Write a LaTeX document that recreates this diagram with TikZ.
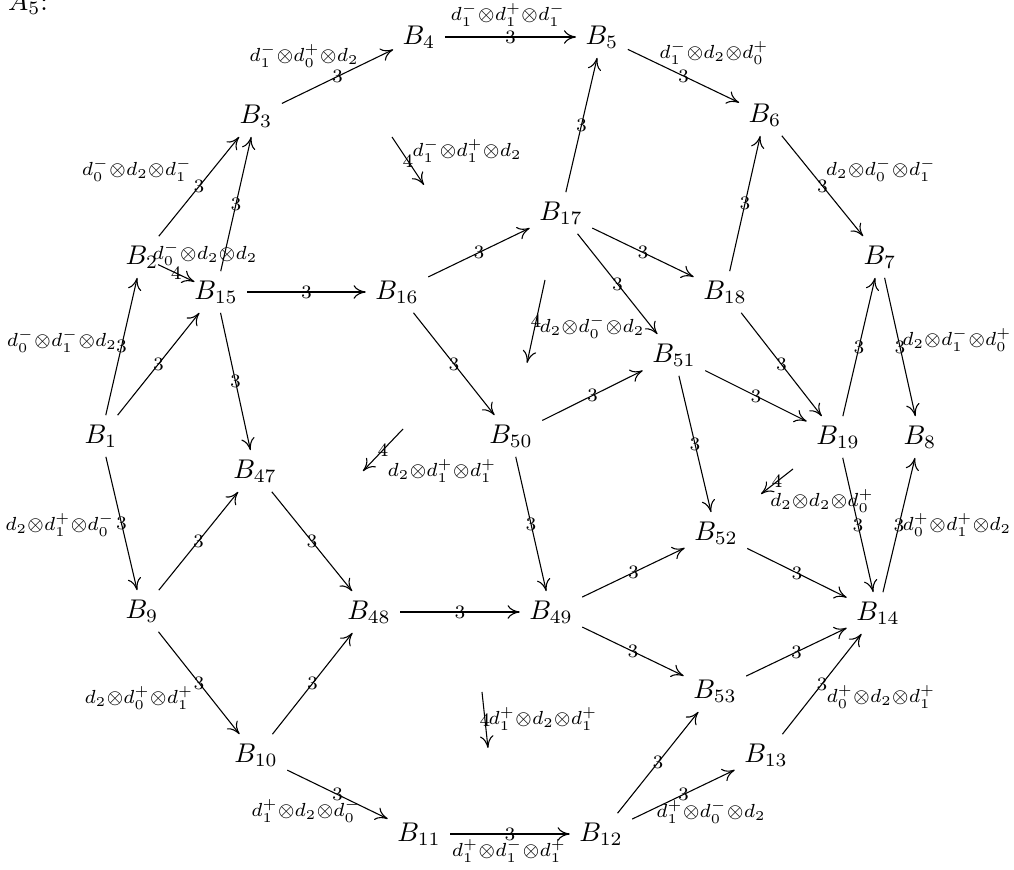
\documentclass[tikz,border=0pt]{standalone}
\usepackage{amsmath,amssymb}
\usepackage{tikz}
\usetikzlibrary{arrows.meta}

\begin{document}
\begin{tikzpicture}[x=0.013cm,y=-0.013cm,
  arr/.style={-{To[length=4.5pt,width=5pt]}},
  num/.style={midway,inner sep=1pt,font=\scriptsize},
  lab/.style={inner sep=0pt}]
\useasboundingbox (0,0) rectangle (1014,870);
\node (A5) at (28,3) {$A_5$:};
% cells
\node (B1) at (101,436) {$B_1$};
\node (B2) at (142,257) {$B_2$};
\node (B3) at (256,116) {$B_3$};
\node (B4) at (419,37) {$B_4$};
\node (B5) at (602,37) {$B_5$};
\node (B6) at (765,115) {$B_6$};
\node (B7) at (880,257) {$B_7$};
\node (B8) at (920,437) {$B_8$};
\node (B9) at (142,611) {$B_9$};
\node (B10) at (256,755) {$B_{10}$};
\node (B11) at (419,834) {$B_{11}$};
\node (B12) at (601,834) {$B_{12}$};
\node (B13) at (766,755) {$B_{13}$};
\node (B14) at (878,613) {$B_{14}$};
\node (B15) at (216,292) {$B_{15}$};
\node (B16) at (397,292) {$B_{16}$};
\node (B17) at (561,213) {$B_{17}$};
\node (B18) at (725,292) {$B_{18}$};
\node (B19) at (838,437) {$B_{19}$};
\node (B47) at (255,471) {$B_{47}$};
\node (B48) at (369,612) {$B_{48}$};
\node (B49) at (551,612) {$B_{49}$};
\node (B50) at (511,436) {$B_{50}$};
\node (B51) at (674,355) {$B_{51}$};
\node (B52) at (716,533) {$B_{52}$};
\node (B53) at (715,691) {$B_{53}$};
% outer ring
\draw[arr] (B1) -- node[num]{3} (B2);
\draw[arr] (B2) -- node[num]{3} (B3);
\draw[arr] (B3) -- node[num]{3} (B4);
\draw[arr] (B4) -- node[num]{3} (B5);
\draw[arr] (B5) -- node[num]{3} (B6);
\draw[arr] (B6) -- node[num]{3} (B7);
\draw[arr] (B7) -- node[num]{3} (B8);
\draw[arr] (B1) -- node[num]{3} (B9);
\draw[arr] (B9) -- node[num]{3} (B10);
\draw[arr] (B10) -- node[num]{3} (B11);
\draw[arr] (B11) -- node[num]{3} (B12);
\draw[arr] (B12) -- node[num]{3} (B13);
\draw[arr] (B13) -- node[num]{3} (B14);
\draw[arr] (B14) -- node[num]{3} (B8);
% inner edges
\draw[arr] (B1) -- node[num]{3} (B15);
\draw[arr] (B15) -- node[num]{3} (B3);
\draw[arr] (B15) -- node[num]{3} (B16);
\draw[arr] (B15) -- node[num]{3} (B47);
\draw[arr] (B16) -- node[num]{3} (B17);
\draw[arr] (B16) -- node[num]{3} (B50);
\draw[arr] (B17) -- node[num]{3} (B5);
\draw[arr] (B17) -- node[num]{3} (B18);
\draw[arr] (B17) -- node[num]{3} (B51);
\draw[arr] (B18) -- node[num]{3} (B6);
\draw[arr] (B18) -- node[num]{3} (B19);
\draw[arr] (B50) -- node[num]{3} (B51);
\draw[arr] (B51) -- node[num]{3} (B19);
\draw[arr] (B51) -- node[num]{3} (B52);
\draw[arr] (B19) -- node[num]{3} (B7);
\draw[arr] (B19) -- node[num]{3} (B14);
\draw[arr] (B9) -- node[num]{3} (B47);
\draw[arr] (B47) -- node[num]{3} (B48);
\draw[arr] (B10) -- node[num]{3} (B48);
\draw[arr] (B48) -- node[num]{3} (B49);
\draw[arr] (B50) -- node[num]{3} (B49);
\draw[arr] (B49) -- node[num]{3} (B52);
\draw[arr] (B49) -- node[num]{3} (B53);
\draw[arr] (B52) -- node[num]{3} (B14);
\draw[arr] (B53) -- node[num]{3} (B14);
\draw[arr] (B12) -- node[num]{3} (B53);
\draw[arr,shorten <=-4pt,shorten >=-4pt] (B2) -- node[num]{4} (B15);
% labels of the outer edges
\node[lab] (l12) at (62,341) {$\scriptstyle d_0^-\otimes d_1^-\otimes d_2$};
\node[lab] (l23) at (137,170) {$\scriptstyle d_0^-\otimes d_2\otimes d_1^-$};
\node[lab] (l34) at (304,56) {$\scriptstyle d_1^-\otimes d_0^+\otimes d_2$};
\node[lab] (l45) at (508,15) {$\scriptstyle d_1^-\otimes d_1^+\otimes d_1^-$};
\node[lab] (l56) at (714,53) {$\scriptstyle d_1^-\otimes d_2\otimes d_0^+$};
\node[lab] (l67) at (881,170) {$\scriptstyle d_2\otimes d_0^-\otimes d_1^-$};
\node[lab] (l78) at (957,340) {$\scriptstyle d_2\otimes d_1^-\otimes d_0^+$};
\node[lab] (l19) at (60,525) {$\scriptstyle d_2\otimes d_1^+\otimes d_0^-$};
\node[lab] (l910) at (139,698) {$\scriptstyle d_2\otimes d_0^+\otimes d_1^+$};
\node[lab] (l1011) at (306,811) {$\scriptstyle d_1^+\otimes d_2\otimes d_0^-$};
\node[lab] (l1112) at (509,851) {$\scriptstyle d_1^+\otimes d_1^-\otimes d_1^+$};
\node[lab] (l1213) at (711,812) {$\scriptstyle d_1^+\otimes d_0^-\otimes d_2$};
\node[lab] (l1314) at (881,697) {$\scriptstyle d_0^+\otimes d_2\otimes d_1^+$};
\node[lab] (l148) at (957,525) {$\scriptstyle d_0^+\otimes d_1^+\otimes d_2$};
\node[lab] (l215) at (205,254) {$\scriptstyle d_0^-\otimes d_2\otimes d_2$};
% 2-cells
\coordinate (c1a) at (392,137); \coordinate (c1b) at (424,185);
\coordinate (c2a) at (545,280); \coordinate (c2b) at (527,363);
\coordinate (c3a) at (403,429); \coordinate (c3b) at (363,471);
\coordinate (c4a) at (793,469); \coordinate (c4b) at (761,494);
\coordinate (c5a) at (482,692); \coordinate (c5b) at (488,748);
\draw[arr] (c1a) -- node[num]{4} (c1b);
\draw[arr] (c2a) -- node[num]{4} (c2b);
\draw[arr] (c3a) -- node[num]{4} (c3b);
\draw[arr] (c4a) -- node[num]{4} (c4b);
\draw[arr] (c5a) -- node[num]{4} (c5b);
\node[lab] (t1) at (467,151) {$\scriptstyle d_1^-\otimes d_1^+\otimes d_2$};
\node[lab] (t2) at (592,327) {$\scriptstyle d_2\otimes d_0^-\otimes d_2$};
\node[lab] (t3) at (442,471) {$\scriptstyle d_2\otimes d_1^+\otimes d_1^+$};
\node[lab] (t4) at (822,501) {$\scriptstyle d_2\otimes d_2\otimes d_0^+$};
\node[lab] (t5) at (543,719) {$\scriptstyle d_1^+\otimes d_2\otimes d_1^+$};
\end{tikzpicture}
\end{document}
